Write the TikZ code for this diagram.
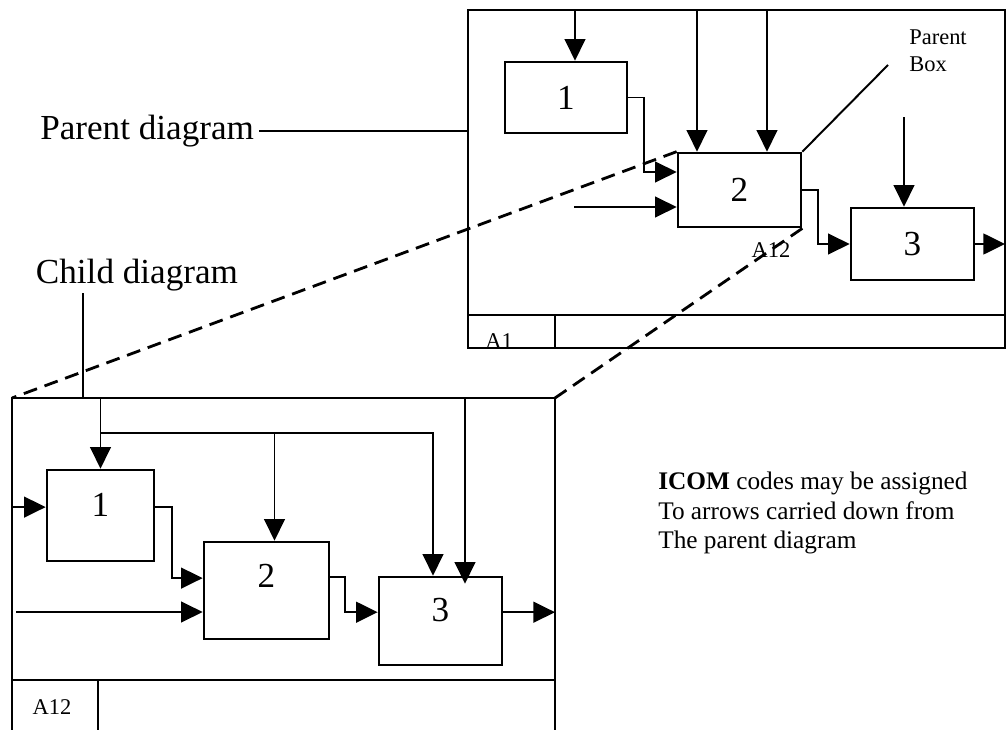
\documentclass[tikz,border=0pt]{standalone}
\usepackage{fontspec}
\setmainfont{Liberation Serif}
\usetikzlibrary{arrows.meta,positioning,calc}

\begin{document}
\begin{tikzpicture}[x=0.025cm,y=-0.025cm,
		fbox/.style={draw, line width=1.9pt, inner sep=0pt, font=\fontsize{25}{30}\selectfont},
		cbox/.style={fbox, text depth=0.55cm},
		flow/.style={line width=1.4pt, -{Triangle[length=5.4mm,width=5.2mm]}},
		frameline/.style={line width=2pt},
		zoomline/.style={line width=2pt, dash pattern=on 3.5mm off 2mm},
		biglabel/.style={font=\fontsize{25}{30}\selectfont},
		smalllabel/.style={font=\fontsize{16}{19}\selectfont, align=left, inner sep=0pt}]
		\useasboundingbox (0,0) rectangle (1008,730);

		% parent diagram
		\coordinate (pftl) at (468,10);
		\coordinate (pfbr) at (1005,348);
		\draw[frameline] (pftl) rectangle (pfbr);
		\draw[frameline] (468,315) -- (1005,315);
		\draw[frameline] (555,315) -- (555,348);
		\node[smalllabel] (pa1) at (499,341) {A1};

		\node[fbox, minimum width=3.05cm, minimum height=1.775cm] (p1) at (566,97.5) {1};
		\node[fbox, minimum width=3.075cm, minimum height=1.85cm] (p2) at (739.5,190) {2};
		\node[fbox, minimum width=3.075cm, minimum height=1.8cm] (p3) at (912.5,244) {3};

		\coordinate (pc1) at (575,10);
		\coordinate (pc2a) at (697,10);
		\coordinate (pc2b) at (767,10);
		\coordinate (pc3) at (904,117);
		\coordinate (pin2) at (574,207);
		\draw[flow] (pc1) -- (pc1 |- p1.north);
		\draw[flow] (pc2a) -- (pc2a |- p2.north);
		\draw[flow] (pc2b) -- (pc2b |- p2.north);
		\draw[flow] (pc3) -- (pc3 |- p3.north);
		\draw[flow] (pin2) -- (pin2 -| p2.west);
		\draw[flow] (p1.east) -- ++(16,0) |- ([yshift=0.45cm]p2.west);
		\draw[flow] (p2.east) -- ++(16,0) |- (p3.west);
		\draw[flow] (p3.east) -- (p3.east -| pfbr);

		\node[smalllabel] (pboxlbl) at (938,51) {Parent\\Box};
		\coordinate (pboxend) at (888,65);
		\draw[line width=1.4pt] (p2.north east) -- (pboxend);
		\node[smalllabel] (pa12) at (771,250) {A12};

		\node[biglabel, anchor=east] (plabel) at (259,131) {Parent diagram};
		\draw[line width=1.4pt] (plabel.east) -- (plabel.east -| pftl);

		% child diagram
		\coordinate (cftl) at (12,398);
		\coordinate (cftr) at (555,398);
		\draw[frameline] (12,730) -- (cftl) -- (cftr) -- (555,730);
		\draw[frameline] (12,680) -- (555,680);
		\draw[frameline] (98,680) -- (98,730);
		\node[smalllabel] (ca12) at (52,707) {A12};

		\node[cbox, minimum width=2.675cm, minimum height=2.275cm] (c1) at (100.5,515.5) {1};
		\node[cbox, text depth=0.72cm, minimum width=3.125cm, minimum height=2.425cm] (c2) at (266.5,590.5) {2};
		\node[cbox, minimum width=3.075cm, minimum height=2.2cm] (c3) at (440.5,621) {3};

		\coordinate (cbr) at (433,433);
		\coordinate (cc3) at (465,398);
		\coordinate (cin2) at (16,612);
		\draw[flow] (c1.north |- cftl) -- (c1.north);
		\draw[flow] (c1.north |- cbr) -| (cbr |- c3.north);
		\draw[flow] ([xshift=0.2cm]c2.north |- cbr) -- ([xshift=0.2cm]c2.north);
		\draw[flow] (cc3) -- ([yshift=-0.2cm]cc3 |- c3.north);
		\draw[flow] ([yshift=0.21cm]c1.west -| cftl) -- ([yshift=0.21cm]c1.west);
		\draw[flow] ([yshift=0.21cm]c1.east) -- ++(17,0) |- ([yshift=0.31cm]c2.west);
		\draw[flow] (cin2) -- (cin2 -| c2.west);
		\draw[flow] ([yshift=0.34cm]c2.east) -- ++(15,0) |- ([yshift=0.22cm]c3.west);
		\draw[flow] ([yshift=0.22cm]c3.east) -- ([yshift=0.22cm]c3.east -| cftr);

		\node[biglabel] (clabel) at (137,275) {Child diagram};
		\coordinate (cl) at (83,293);
		\draw[line width=1.4pt] (cl) -- (cl |- cftl);

		% zoom lines
		\draw[zoomline] (p2.north west) -- (cftl);
		\draw[zoomline] (p2.south east) -- (cftr);

		\node[anchor=north west, inner sep=0pt, align=left, font=\fontsize{18}{21}\selectfont] (icom) at (658,472) {\textbf{ICOM} codes may be assigned\\To arrows carried down from\\The parent diagram};
	\end{tikzpicture}
\end{document}
